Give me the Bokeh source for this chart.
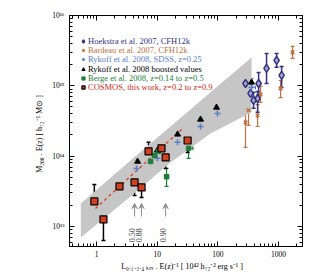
import math
from bokeh.plotting import figure
from bokeh.models import (ColumnDataSource, Whisker, TeeHead, Arrow, VeeHead,
                          Legend, LegendItem, LogAxis, FixedTicker, CustomJSTickFormatter)
from bokeh.embed import file_html
from bokeh.resources import INLINE
from bokeh.core.properties import value

# ---------------- data ----------------
# Hoekstra et al. 2007
hoek_L = [287, 347, 390, 454, 472, 638, 935, 1131]
hoek_M = [1.08e15, 7.8e14, 6.2e14, 6.6e14, 1.08e15, 1.77e15, 2.30e15, 1.41e15]
hoek_lo = [7.3e14, 6.0e14, 4.8e14, 4.2e14, 7.3e14, 1.08e15, 1.83e15, 9.5e14]
hoek_hi = [1.55e15, 1.01e15, 8.1e14, 8.3e14, 1.55e15, 2.89e15, 2.89e15, 1.88e15]

# Bardeau et al. 2007
bard_L = [1716, 1087, 287, 322, 454, 507]
bard_M = [2.99e15, 9.2e14, 3.02e14, 4.5e14, 3.79e14, 7.55e14]
bard_lo = [2.45e15, 6.8e14, 1.33e14, 2.73e14, 2.64e14, 5.8e14]
bard_hi = [3.63e15, 1.19e15, 5.8e14, 6.2e14, 5.4e14, 9.8e14]

# Rykoff et al. 2008, SDSS
ryk_L = [4.57, 10.1, 21.7, 52.0, 98.9, 361]
ryk_M = [6.7e13, 9.3e13, 1.57e14, 2.64e14, 4.05e14, 9.5e14]
ryk_lo = [4.8e13, 7.1e13, 1.13e14, 1.91e14, 2.92e14, 7.06e14]
ryk_hi = [9.6e13, 1.21e14, 2.17e14, 3.67e14, 5.6e14, 1.27e15]
ryk_Llo = [4.05, 9.05, 19.4, 46.4, 88.6, 312]
ryk_Lhi = [5.17, 11.3, 24.3, 58.2, 110, 418]

# Rykoff et al. 2008 boosted values
boost_L = [4.75, 10.1, 21.7, 52.0, 95.4, 361]
boost_M = [8.4e13, 1.21e14, 2.04e14, 3.33e14, 4.93e14, 1.12e15]

# Berge et al. 2008
berge_L = [7.79, 9.05, 10.5, 14.3, 33.0]
berge_M = [8.4e13, 1.02e14, 1.17e14, 5.1e13, 1.29e14]
berge_lo = [5.9e13, 7.6e13, 9.3e13, 3.71e13, 9.3e13]
berge_hi = [1.17e14, 1.33e14, 1.47e14, 6.7e13, 1.67e14]
berge_Llo = [7.2, 8.4, 9.78, 13.3, 27.4]
berge_Lhi = [8.4, 9.78, 11.3, 15.4, 38.9]

# COSMOS, this work
cos_L = [0.92, 1.30, 2.39, 4.24, 5.53, 7.21, 11.8, 13.8, 31.8]
cos_M = [2.27e13, 1.26e13, 3.71e13, 4.23e13, 3.59e13, 1.17e14, 1.29e14, 9.6e13, 1.67e14]
cos_lo = [1.30e13, 6.3e12, 2.67e13, 2.76e13, 2.59e13, 7.9e13, 9.3e13, 6.7e13, 1.13e14]
cos_hi = [3.95e13, 2.12e13, 5.3e13, 5.9e13, 5.0e13, 1.57e14, 1.79e14, 1.42e14, 2.48e14]

# best fit and its uncertainty band
fit_L = [0.96, 27.4]
fit_M = [1.8e13, 2.55e14]
band_L = [0.55, 3.64, 16.6, 76.0, 361]
band_lo = [6.98e12, 2.67e13, 8.1e13, 2.10e14, 4.2e14]
band_hi = [2.12e13, 8.7e13, 2.64e14, 8.1e14, 2.53e15]

# arrows with redshift labels
arrow_L = [4.24, 5.53, 13.8]
arrow_tail = [1.39e13, 1.39e13, 1.39e13]
arrow_tip = [2.12e13, 2.12e13, 2.12e13]
arrow_text_L = [3.86, 5.07, 12.7]
arrow_text_M = [7.5e12, 7.5e12, 7.5e12]
arrow_labels = ["0.50", "0.88", "0.90"]

x_ticks = [1, 10, 100, 1000]
y_ticks = [1e13, 1e14, 1e15, 1e16]

legend_labels = ["Hoekstra et al. 2007, CFH12k",
                 "Bardeau et al. 2007, CFH12k",
                 "Rykoff et al. 2008, SDSS, z=0.25",
                 "Rykoff et al. 2008 boosted values",
                 "Berge et al. 2008, z=0.14 to z=0.5",
                 "COSMOS, this work, z=0.2 to z=0.9"]

x_title = "L\u2080.\u2081\u208b\u2082.\u2084 \u2096\u2091\u1d65  . E(z)\u207b\u00b9    [ 10\u2074\u00b2 h\u2087\u2082\u207b\u00b2 erg s\u207b\u00b9 ]"
y_title = "M\u2082\u2080\u2080 . E(z)    [ h\u2087\u2082\u207b\u00b9 M\u2299 ]"

# ---------------- styling ----------------
NAVY = "#33337f"
ORANGE = "#c2703c"
LBLUE = "#5a80c8"
GREEN = "#1f7d3a"
RED = "#d2401f"
RED_TXT = "#cc2a1a"
FONT = "Liberation Serif"

p = figure(width=308, height=273, x_axis_type="log", y_axis_type="log",
           x_range=(0.358, 2500), y_range=(5.19e12, 1e16),
           output_backend="svg", toolbar_location=None,
           min_border_left=69, min_border_right=6, min_border_top=15, min_border_bottom=27)
p.xgrid.visible = False
p.ygrid.visible = False
p.outline_line_color = "black"
p.background_fill_color = "white"

def minors(majors, lo, hi):
    out = []
    for m in [majors[0] / 10] + majors:
        for k in range(2, 10):
            v = m * k
            if lo <= v <= hi:
                out.append(v)
    return out

xt = FixedTicker(ticks=x_ticks, minor_ticks=minors(x_ticks, 0.358, 2500))
yt = FixedTicker(ticks=y_ticks, minor_ticks=minors(y_ticks, 5.19e12, 1e16))

def style(ax, labels=True):
    ax.major_tick_in = 5
    ax.major_tick_out = 0
    ax.minor_tick_in = 3
    ax.minor_tick_out = 0
    ax.axis_line_color = "black"
    ax.major_tick_line_color = "black"
    ax.minor_tick_line_color = "black"
    ax.major_label_text_font = FONT
    ax.major_label_text_color = "black"
    ax.axis_label_text_font = FONT
    ax.axis_label_text_font_style = "normal"
    ax.axis_label_text_color = "black"
    ax.axis_label_text_font_size = "8px"
    if labels:
        ax.major_label_text_font_size = "7.5px"
    else:
        ax.major_label_text_font_size = "1px"
        ax.major_label_standoff = 0

p.xaxis.ticker = xt
p.yaxis.ticker = yt
p.xaxis.formatter = CustomJSTickFormatter(code="return Math.round(tick).toString();")
p.yaxis.formatter = CustomJSTickFormatter(code="""
const s = {'0':'\u2070','1':'\u00b9','2':'\u00b2','3':'\u00b3','4':'\u2074','5':'\u2075','6':'\u2076','7':'\u2077','8':'\u2078','9':'\u2079'};
const e = Math.round(Math.log10(tick));
return '10' + String(e).split('').map(c => s[c]).join('');
""")
style(p.xaxis[0]); style(p.yaxis[0])
p.xaxis.major_label_standoff = 4
p.yaxis.major_label_standoff = 5
p.xaxis.axis_label = x_title
p.yaxis.axis_label = y_title
p.xaxis.axis_label_standoff = 2
p.yaxis.axis_label_standoff = 5

empty = CustomJSTickFormatter(code="return '';")
ax_top = LogAxis(ticker=xt, formatter=empty)
ax_right = LogAxis(ticker=yt, formatter=empty)
style(ax_top, False); style(ax_right, False)
p.add_layout(ax_top, "above")
p.add_layout(ax_right, "right")

# band and fit
p.varea(x=band_L, y1=band_lo, y2=band_hi, fill_color="#c6c6c6", fill_alpha=1.0)
p.line(fit_L, fit_M, line_color=RED, line_width=1.3, line_dash="3 3")

def yerr(L, lo, hi, color, w=1.2, size=4):
    src = ColumnDataSource(dict(L=L, lo=lo, hi=hi))
    p.add_layout(Whisker(source=src, base="L", lower="lo", upper="hi", dimension="height",
                         line_color=color, line_width=w,
                         upper_head=TeeHead(size=size, line_color=color, line_width=w),
                         lower_head=TeeHead(size=size, line_color=color, line_width=w)))

def xerr(M, lo, hi, color, w=1.2, size=4):
    src = ColumnDataSource(dict(M=M, lo=lo, hi=hi))
    p.add_layout(Whisker(source=src, base="M", lower="lo", upper="hi", dimension="width",
                         line_color=color, line_width=w,
                         upper_head=TeeHead(size=size, line_color=color, line_width=w),
                         lower_head=TeeHead(size=size, line_color=color, line_width=w)))

# Bardeau
yerr(bard_L, bard_lo, bard_hi, ORANGE)
r_bard = p.scatter(bard_L, bard_M, marker="x", size=5, line_color=ORANGE, line_width=1.5)
# Hoekstra
yerr(hoek_L, hoek_lo, hoek_hi, NAVY, w=1.5)
r_hoek = p.scatter(hoek_L, hoek_M, marker="diamond", size=8, fill_color="#a8a8d4",
                   line_color=NAVY, line_width=1.5)
# Rykoff
yerr(ryk_L, ryk_lo, ryk_hi, LBLUE)
xerr(ryk_M, ryk_Llo, ryk_Lhi, LBLUE)
r_ryk = p.scatter(ryk_L, ryk_M, marker="cross", size=6, line_color=LBLUE, line_width=1.5)
r_boost = p.scatter(boost_L, boost_M, marker="triangle", size=6, fill_color="black", line_color="black")
# Berge
yerr(berge_L, berge_lo, berge_hi, GREEN)
xerr(berge_M, berge_Llo, berge_Lhi, GREEN)
r_berge = p.scatter(berge_L, berge_M, marker="square", size=4.5, fill_color=GREEN, line_color=GREEN)
# COSMOS
yerr(cos_L, cos_lo, cos_hi, "black", w=1.5)
r_cos = p.scatter(cos_L, cos_M, marker="square", size=7, fill_color=RED, line_color="black", line_width=1.2)

# arrows
asrc = ColumnDataSource(dict(x0=arrow_L, y0=arrow_tail, x1=arrow_L, y1=arrow_tip))
p.add_layout(Arrow(source=asrc, x_start="x0", y_start="y0", x_end="x1", y_end="y1",
                   line_color="#8c8c8c", line_width=1,
                   end=VeeHead(size=5, line_color="#8c8c8c", fill_color="#8c8c8c", line_width=1)))
p.text(x=arrow_text_L, y=arrow_text_M, text=arrow_labels, angle=math.pi / 2,
       text_align="center", text_baseline="middle", text_font=value(FONT),
       text_font_size="8px", text_color="#333333")

# legends: one per entry (each label has its own colour), anchored at the
# top left of the frame; an almost empty title pushes each row down.
leg_colors = [NAVY, ORANGE, LBLUE, "black", GREEN, RED_TXT]
leg_rends = [r_hoek, r_bard, r_ryk, r_boost, r_berge, r_cos]
row_push = [10, 19, 28, 38, 47, 56]
for lab, col, rend, push in zip(legend_labels, leg_colors, leg_rends, row_push):
    lg = Legend(items=[LegendItem(label=lab, renderers=[rend])],
                location="top_left", label_text_font=FONT,
                label_text_font_size="8.5px", label_text_color=col,
                background_fill_alpha=0, border_line_alpha=0, padding=10, margin=0,
                spacing=0, glyph_width=8, glyph_height=8, label_standoff=1, label_height=8,
                title=" ", title_text_font_size="1px", title_standoff=push)
    p.add_layout(lg)

open("out.html", "w", encoding="utf-8").write(file_html(p, INLINE))
